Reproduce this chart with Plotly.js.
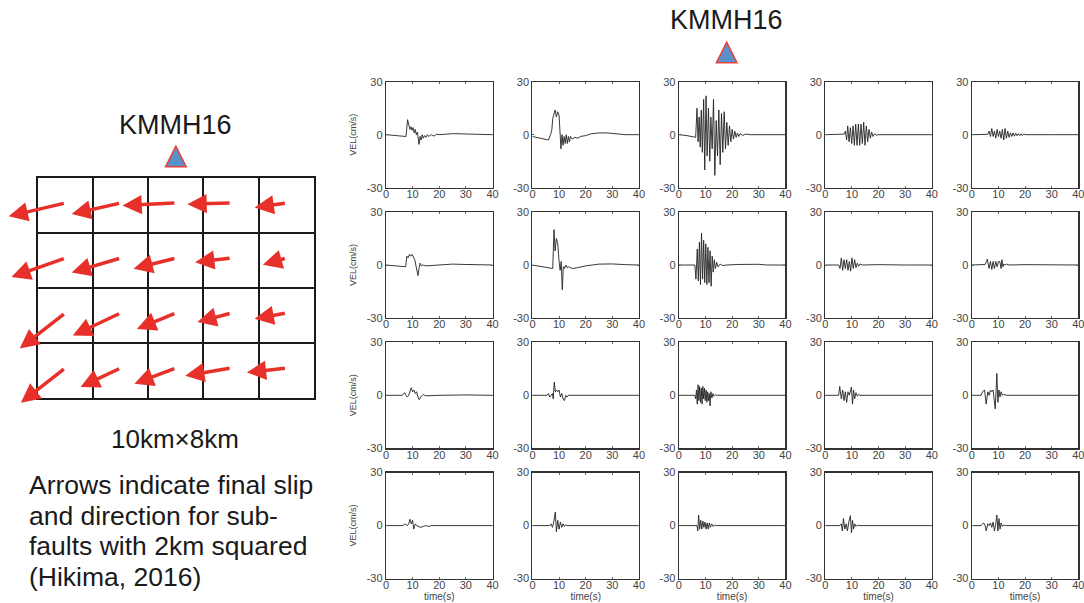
<!DOCTYPE html>
<html>
<head>
<meta charset="utf-8">
<script src="https://cdn.plot.ly/plotly-3.0.1.min.js"></script>
<style>html,body{margin:0;padding:0;background:#fff;}#chart{width:1084px;height:603px;}</style>
</head>
<body>
<div id="chart"></div>
<script>
// ---------- DATA ----------
var stationName = 'KMMH16';
var faultSizeLabel = '10km\u00d78km';
var captionLines = ['Arrows indicate final slip', 'and direction for sub-', 'faults with 2km squared', '(Hikima, 2016)'];
// sub-fault grid (km)
var faultLengthKm = 10, faultWidthKm = 8, subfaultKm = 2;
var stationKmX = 5;
// slip vectors per sub-fault (km on the sketch), rows top->bottom, cols left->right
var slipDx = [
  [-2.05, -1.77, -1.93, -1.58, -1.15],
  [-1.95, -1.77, -1.53, -1.30, -0.85],
  [-1.65, -1.73, -1.41, -1.22, -1.15],
  [-1.61, -1.45, -1.50, -1.66, -1.43]
];
var slipDy = [
  [0.48, 0.40, 0.09, 0.04, 0.16],
  [0.69, 0.53, 0.39, 0.15, 0.24],
  [1.29, 0.82, 0.58, 0.33, 0.21],
  [1.26, 0.69, 0.57, 0.28, 0.16]
];
// velocity waveforms (time s, VEL cm/s)
var t_r1c1 = [0, 3, 6, 7.5, 8.1, 8.6, 9, 9.4, 9.8, 10.2, 10.6, 11, 11.4, 11.8, 12.1, 12.4, 12.8, 13.2, 13.6, 14, 14.5, 15, 15.5, 16, 17, 18, 19, 20, 25, 30, 35, 40];
var v_r1c1 = [0, -0.5, -1, -1, 8.5, 5, 3, 4.5, 2.5, 4, 1, 3, 0, 1.5, -3, -5.5, -1, -3, 0, -2, -0.5, -1.5, 0, -1, 0, -0.8, 0.3, 0, 0.6, 0.4, 0, 0];
var t_r1c2 = [0, 3, 6, 6.8, 7.3, 7.6, 8, 8.5, 9, 9.5, 10, 10.3, 10.7, 11.1, 11.5, 11.9, 12.3, 12.7, 13.1, 13.5, 13.9, 14.3, 15, 16, 17, 18, 20, 22, 25, 28, 31, 35, 40];
var v_r1c2 = [-1, -2, -3, 0, 3, 9, 12, 14, 10, 13, 11, -2, -8, 0, -6, -1, -5, 0, -5, -1, -4, -1, -2.5, -1.5, -2, -1, -0.5, 0.5, 1, 1, 0.5, 0, 0];
var t_r1c3 = [0, 3, 6.3, 6.8, 7.2, 7.6, 8, 8.4, 8.8, 9.3, 9.7, 10.2, 10.6, 11.1, 11.6, 12, 12.5, 13, 13.5, 14, 14.5, 15, 15.5, 16, 16.5, 17, 17.5, 18, 18.5, 19, 19.5, 20, 20.5, 21, 21.5, 22, 22.5, 23, 24, 25, 27, 30, 40];
var v_r1c3 = [0, -0.5, -1.5, 15, -4, 10, -7, 14, -10, 20, -20, 22, -12, 15, -15, 10, -8, 20, -23, 8, -12, 14, -17, 12, -10, 13, -8, 7, -6, 5, -4, 3, -2.5, 2, -1.5, 1, -1, 0.6, -0.4, 0.3, 0, 0, 0];
var t_r1c4 = [0, 5, 7, 7.5, 8, 8.4, 8.9, 9.4, 9.9, 10.4, 10.9, 11.4, 11.9, 12.4, 12.9, 13.4, 13.9, 14.4, 14.9, 15.4, 15.9, 16.4, 16.9, 17.4, 17.9, 18.5, 19.2, 20, 30, 40];
var v_r1c4 = [0, 0, 0.3, 2, -3, 5, -4, 4, -5, 5, -6, 6, -6, 6, -6, 6, -5, 7, -6, 5, -4, 3, -2, 1.5, -1, 0.5, -0.3, 0, 0, 0];
var t_r1c5 = [0, 5, 6, 6.5, 7, 7.5, 8, 8.5, 9, 9.5, 10, 10.5, 11, 11.5, 12, 12.5, 13, 13.5, 14, 14.5, 15, 15.5, 16, 16.5, 17, 17.5, 18, 18.5, 19, 19.5, 20, 30, 40];
var v_r1c5 = [0, 0, 0.2, 2, -1, 3.5, -1, 2, -2, 3, -1, 2, -2, 3, -3, 3.5, -2, 2, -1.5, 1, -1, 1, -0.8, 0.8, -0.6, 0.6, -0.5, 0.5, -0.5, 0.4, 0, 0, 0];
var t_r2c1 = [0, 4, 7.4, 7.8, 8.3, 8.8, 9.3, 9.8, 10.3, 10.8, 11.2, 11.6, 12, 12.4, 12.8, 13.3, 14, 15, 17, 20, 25, 30, 35, 40];
var v_r2c1 = [0, -0.5, -1, 5, 4, 6, 5, 6, 4, 3, 0, -3, -6, -2, 1, -0.5, 0, -0.5, -0.3, 0, 0.5, 0.3, 0, 0];
var t_r2c2 = [0, 4, 7.6, 8.1, 8.5, 9, 9.5, 10, 10.4, 10.8, 11.2, 11.6, 12, 12.5, 13, 13.5, 15, 17, 20, 25, 30, 35, 40];
var v_r2c2 = [0, -1, -2, 20, 8, 15, 12, 2, -3, 2, -14, -1, -2, 0, -1.5, -1, -2, -1.5, -0.5, 0.5, 0.6, 0.2, 0];
var t_r2c3 = [0, 5, 6, 6.4, 6.9, 7.3, 7.7, 8.1, 8.5, 8.9, 9.3, 9.7, 10.1, 10.5, 10.9, 11.3, 11.7, 12.1, 12.5, 12.9, 13.3, 13.7, 14.2, 14.7, 15.5, 16.5, 18, 22, 26, 30, 33, 40];
var v_r2c3 = [0, 0, 0, -8, 9, -9, 13, -11, 18, -8, 14, -10, 12, -11, 10, -10, 8, -12, 5, -4, 3, -2, 1.5, -1, 0.5, -0.3, 0, 0.3, 0.5, 0.4, 0, 0];
var t_r2c4 = [0, 4.5, 5, 5.5, 6, 6.5, 7, 7.5, 8, 8.5, 9, 9.5, 10, 10.5, 11, 11.5, 12, 12.5, 13, 14, 20, 30, 40];
var v_r2c4 = [0, 0, 0, -2, 4, -3, 3, -2, 3, -3, 2, -3.5, 4, -2, 3, -1.5, 1, -0.7, 0.5, 0, 0.2, 0, 0];
var t_r2c5 = [0, 4.5, 5, 5.5, 5.8, 6.5, 7, 7.5, 8, 8.5, 9, 9.5, 10, 10.5, 11, 11.3, 11.7, 12, 12.5, 13, 14, 20, 30, 40];
var v_r2c5 = [0, 0, 0.3, 2, 3.3, -2, 2, -2.5, 2, -2, 2, -1, 2, 2, -2, 3, -1, 0.5, 0, 0.5, 0, 0.2, 0, 0];
var t_r3c1 = [0, 6, 6.5, 7, 7.5, 8, 8.5, 9, 9.5, 10, 10.5, 11, 11.5, 12, 12.5, 13, 13.5, 14, 14.5, 15, 20, 25, 30, 40];
var v_r3c1 = [0, 0, 0.5, 1.5, 0, -1, 0, 2, 4.3, 2, 3, 1, 2, -1, -2.5, -1, 0, 0.5, 0, -0.3, 0, 0.3, 0.2, 0];
var t_r3c2 = [0, 5.5, 6, 6.5, 7, 7.5, 7.8, 8.2, 8.6, 9, 9.5, 10, 10.5, 11, 11.5, 12, 12.5, 13, 13.5, 15, 20, 25, 30, 40];
var v_r3c2 = [0, 0, 1, -1, 0, 1, -2, 7.5, 2, 3, 2, 3, -1, 1, -2, -3, 0, -1, 0, 0, 0, 0.3, 0.2, 0];
var t_r3c3 = [0, 6, 6.3, 6.6, 6.9, 7.2, 7.5, 7.8, 8.1, 8.4, 8.7, 9, 9.3, 9.6, 9.9, 10.2, 10.5, 10.8, 11.1, 11.4, 11.7, 12, 12.4, 12.8, 13.2, 13.7, 14.5, 20, 30, 40];
var v_r3c3 = [0, 0, -2, 3, -5, 6, -3, 5, -4, 4, -5, 5, -2, 4, -3, 3, -4, 2, -3, 1, -6, 2, -1.5, 1, -0.5, 0.3, 0, 0, 0, 0];
var t_r3c4 = [0, 5, 5.4, 6, 6.5, 7, 7.5, 8, 8.5, 9, 9.8, 10.2, 10.6, 11, 11.5, 12, 12.5, 13, 20, 30, 40];
var v_r3c4 = [0, 0, 5, -2, 3, -3, 2, -4, 2, 0, 4.6, -5, 3, -2, 1.5, -0.5, 0.5, 0, 0, 0, 0];
var t_r3c5 = [0, 3.5, 4, 4.8, 5.1, 5.4, 6, 6.5, 7, 7.5, 8, 8.4, 8.8, 9.1, 9.4, 9.8, 10.2, 10.6, 11, 11.5, 12, 13, 20, 30, 40];
var v_r3c5 = [0, 0, 2, 3, -1, -5, 2, 0, 3, 2, 3, -4, -7.7, 2, 12.4, -4, 3, -1, 2, 0, 0.5, 0, 0, 0, 0];
var t_r4c1 = [0, 6.5, 7, 7.5, 8, 8.5, 9, 9.5, 10, 10.4, 11, 11.5, 12, 13, 14, 15, 16, 17, 20, 40];
var v_r4c1 = [0, 0, 1, 0.5, 0, 1, 3.6, 1, 3, -2, 1, 0, -0.5, -1, -0.5, 0, -0.5, 0, 0, 0];
var t_r4c2 = [0, 6.5, 7, 7.5, 8, 8.6, 9, 9.5, 10, 10.5, 11, 11.5, 12, 12.5, 13, 20, 40];
var v_r4c2 = [0, 0, 1, -1, 2, 7.7, -3.5, 3, -2, 2, -1, 1, -0.5, 0.5, 0, 0, 0];
var t_r4c3 = [0, 6.8, 7.1, 7.4, 7.8, 8.2, 8.6, 9, 9.4, 9.8, 10.2, 10.6, 11, 11.4, 11.8, 12.3, 12.8, 13.5, 14, 20, 40];
var v_r4c3 = [0, 0, -3, 6, -2, 3, -2, 2.5, -1, 2, -2, 1.5, -2, 1.5, -1, 1, -0.5, 0.3, 0, 0, 0];
var t_r4c4 = [0, 5.5, 6, 6.4, 6.8, 7.3, 7.8, 8.3, 8.8, 9.4, 9.8, 10.2, 10.6, 11, 11.5, 12, 13, 20, 40];
var v_r4c4 = [0, 0, 1, -3, 4, -2, 1, -3, 2, 5.6, -4, 3, -2, 1, -0.5, 0.3, 0, 0, 0];
var t_r4c5 = [0, 3.5, 4, 4.5, 5, 5.4, 6, 6.5, 7, 7.5, 8, 8.5, 9, 9.4, 9.8, 10.2, 10.6, 11, 11.5, 12, 13, 20, 40];
var v_r4c5 = [0, 0, 1, 1.5, 0, -3, 1, 0, 1.5, -1, 2, -3, 1, 6, -3, 4, -2, 1.5, -0.5, 0.3, 0, 0, 0];

var waveT = [
  [t_r1c1, t_r1c2, t_r1c3, t_r1c4, t_r1c5],
  [t_r2c1, t_r2c2, t_r2c3, t_r2c4, t_r2c5],
  [t_r3c1, t_r3c2, t_r3c3, t_r3c4, t_r3c5],
  [t_r4c1, t_r4c2, t_r4c3, t_r4c4, t_r4c5]
];
var waveV = [
  [v_r1c1, v_r1c2, v_r1c3, v_r1c4, v_r1c5],
  [v_r2c1, v_r2c2, v_r2c3, v_r2c4, v_r2c5],
  [v_r3c1, v_r3c2, v_r3c3, v_r3c4, v_r3c5],
  [v_r4c1, v_r4c2, v_r4c3, v_r4c4, v_r4c5]
];
var xTicks = [0, 10, 20, 30, 40];
var yTicks = [-30, 0, 30];

// ---------- LAYOUT ----------
var W = 1084, H = 603;
function px(x) { return x / W; }
function py(y) { return 1 - y / H; }

var traces = [];
var layout = {
  width: W, height: H,
  margin: {l: 0, r: 0, t: 0, b: 0},
  paper_bgcolor: '#ffffff', plot_bgcolor: 'rgba(0,0,0,0)',
  showlegend: false,
  font: {family: 'Liberation Sans, Arial, sans-serif', color: '#444'},
  annotations: [], shapes: []
};

var panelLeft0 = 386, panelStepX = 146.45, panelW = 106.5;
var panelTop0 = 81.7, panelStepY = 130.3, panelH = 106;
var nRows = waveT.length, nCols = waveT[0].length;

for (var r = 0; r < nRows; r++) {
  for (var c = 0; c < nCols; c++) {
    var k = r * nCols + c + 1;
    var xn = k === 1 ? 'xaxis' : 'xaxis' + k;
    var yn = k === 1 ? 'yaxis' : 'yaxis' + k;
    var xr = k === 1 ? 'x' : 'x' + k;
    var yr = k === 1 ? 'y' : 'y' + k;
    var L = panelLeft0 + c * panelStepX;
    var T = panelTop0 + r * panelStepY;
    traces.push({
      type: 'scatter', mode: 'lines', x: waveT[r][c], y: waveV[r][c],
      xaxis: xr, yaxis: yr, line: {color: '#222', width: 0.9}, hoverinfo: 'skip'
    });
    var common = {
      showline: true, mirror: 'ticks', linecolor: '#333', linewidth: 1.2,
      ticks: 'inside', ticklen: 2, tickwidth: 1, tickcolor: '#666',
      showgrid: false, zeroline: false, fixedrange: true, ticklabeloverflow: 'allow',
      tickfont: {size: 11, color: '#444', family: 'Liberation Sans, Arial, sans-serif'}
    };
    layout[xn] = Object.assign({}, common, {
      domain: [px(L), px(L + panelW)], range: [0, 40],
      tickmode: 'array', tickvals: xTicks, ticktext: xTicks.map(String),
      ticklabelstandoff: -4, anchor: yr
    });
    if (r === nRows - 1) {
      layout[xn].title = {text: 'time(s)', font: {size: 10, color: '#444'}, standoff: 3};
    }
    layout[yn] = Object.assign({}, common, {
      domain: [py(T + panelH), py(T)], range: [-30, 30],
      tickmode: 'array', tickvals: yTicks, ticktext: yTicks.map(String),
      anchor: xr
    });
    if (c === 0) {
      layout[yn].title = {text: 'VEL(cm/s)', font: {size: 9, color: '#444'}, standoff: 8};
    }
  }
}

// ---------- fault sketch ----------
var gL = 37.7, gR = 314, gT = 178.3, gB = 398.3;
layout.xaxis21 = {
  domain: [px(gL), px(gR)], range: [0, faultLengthKm], anchor: 'y21',
  showgrid: true, gridcolor: '#1a1a1a', gridwidth: 2, tick0: 0, dtick: subfaultKm,
  showline: true, mirror: true, linecolor: '#1a1a1a', linewidth: 2,
  showticklabels: false, ticks: '', zeroline: false, fixedrange: true
};
layout.yaxis21 = {
  domain: [py(gB), py(gT)], range: [faultWidthKm, 0], anchor: 'x21',
  showgrid: true, gridcolor: '#1a1a1a', gridwidth: 2, tick0: 0, dtick: subfaultKm,
  showline: true, mirror: true, linecolor: '#1a1a1a', linewidth: 2,
  showticklabels: false, ticks: '', zeroline: false, fixedrange: true
};
traces.push({type: 'scatter', mode: 'markers', x: [], y: [], xaxis: 'x21', yaxis: 'y21', hoverinfo: 'skip'});

for (var rr = 0; rr < slipDx.length; rr++) {
  for (var cc = 0; cc < slipDx[rr].length; cc++) {
    var tx = cc * subfaultKm + subfaultKm / 2;
    var ty = rr * subfaultKm + subfaultKm / 2 - 0.1;
    layout.annotations.push({
      xref: 'x21', yref: 'y21', axref: 'x21', ayref: 'y21',
      x: tx + slipDx[rr][cc], y: ty + slipDy[rr][cc], ax: tx, ay: ty,
      text: '', showarrow: true, arrowhead: 2, arrowsize: 1.1, arrowwidth: 3.5,
      arrowcolor: '#e8302a', standoff: 0, startstandoff: 0
    });
  }
}

// station triangles
var triPath = 'M-10.3,0 L10.3,0 L0,20.5 Z';
var stationPaperX = px(gL + (gR - gL) * stationKmX / faultLengthKm);
[[stationPaperX, py(166.7)], [px(726.7), py(62.7)]].forEach(function (p) {
  layout.shapes.push({
    type: 'path', xref: 'paper', yref: 'paper', xsizemode: 'pixel', ysizemode: 'pixel',
    xanchor: p[0], yanchor: p[1], path: triPath,
    fillcolor: '#5b8fc8', line: {color: '#e8403a', width: 1.5}
  });
});

// texts
var bigFont = {family: 'Liberation Sans, Arial, sans-serif', size: 27, color: '#1a1a1a'};
layout.annotations.push({xref: 'paper', yref: 'paper', x: stationPaperX, y: py(125), text: stationName,
  showarrow: false, xanchor: 'center', yanchor: 'middle', font: bigFont});
layout.annotations.push({xref: 'paper', yref: 'paper', x: px(726), y: py(19.5), text: stationName,
  showarrow: false, xanchor: 'center', yanchor: 'middle', font: bigFont});
layout.annotations.push({xref: 'paper', yref: 'paper', x: px(174.7), y: py(439), text: faultSizeLabel,
  showarrow: false, xanchor: 'center', yanchor: 'middle',
  font: {family: 'Liberation Sans, Arial, sans-serif', size: 26, color: '#1a1a1a'}});
var capY = [485, 515.5, 546, 576.5];
captionLines.forEach(function (s, i) {
  layout.annotations.push({xref: 'paper', yref: 'paper', x: px(27), y: py(capY[i]), text: s,
    showarrow: false, xanchor: 'left', yanchor: 'middle',
    font: {family: 'Liberation Sans, Arial, sans-serif', size: 26.5, color: '#1a1a1a'}});
});

Plotly.newPlot('chart', traces, layout, {displayModeBar: false, staticPlot: true});
</script>
</body>
</html>
